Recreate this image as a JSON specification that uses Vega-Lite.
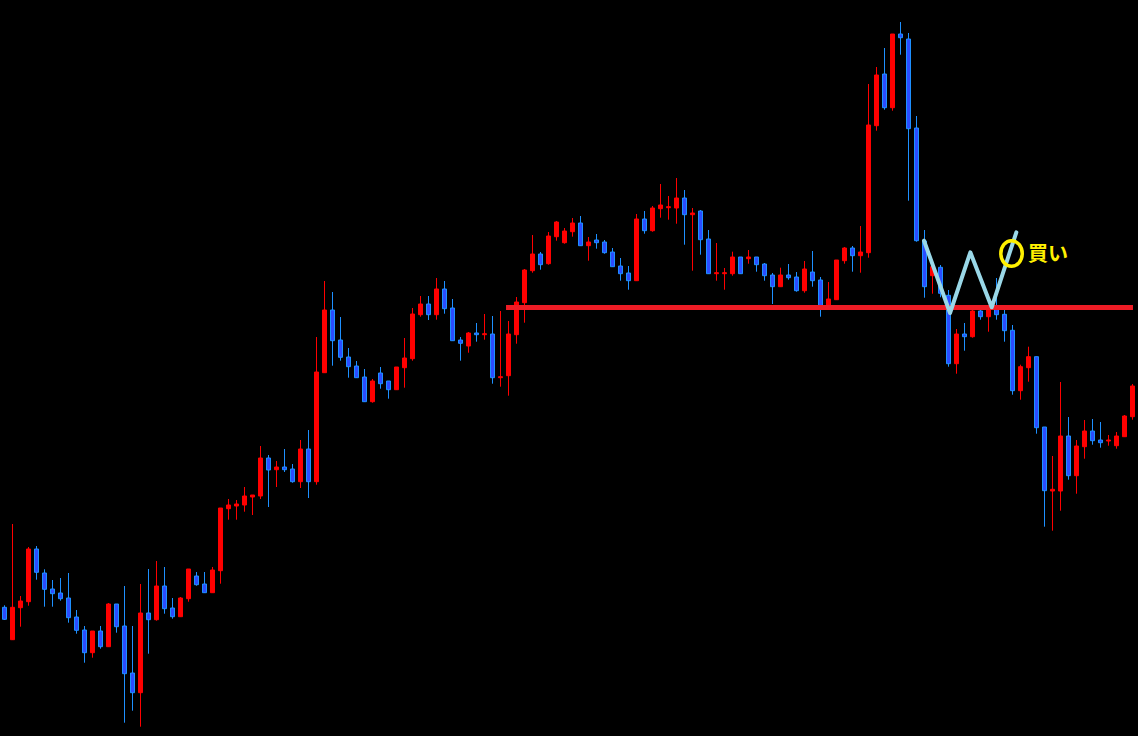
{
  "$schema": "https://vega.github.io/schema/vega-lite/v6.json",
  "width": 1138,
  "height": 736,
  "autosize": {"type": "fit", "contains": "padding"},
  "padding": 0,
  "background": "#000000",
  "config": {"view": {"stroke": null}, "scale": {"continuousPadding": 0}},
  "datasets": {
    "candles": [
      {"k":0,"o":128.7,"h":130.7,"l":116,"c":116.7},
      {"k":1,"o":96.3,"h":212,"l":96,"c":128.7},
      {"k":2,"o":128.3,"h":140,"l":109.3,"c":135},
      {"k":3,"o":134.3,"h":189,"l":130.3,"c":187},
      {"k":4,"o":187,"h":190,"l":156.3,"c":163.7},
      {"k":5,"o":163,"h":166.7,"l":129.3,"c":146.7},
      {"k":6,"o":147,"h":156,"l":129.3,"c":142.3},
      {"k":7,"o":143,"h":158,"l":135.3,"c":137.3},
      {"k":8,"o":138,"h":163,"l":113.3,"c":118.3},
      {"k":9,"o":119,"h":126,"l":102.3,"c":105.7},
      {"k":10,"o":106,"h":110,"l":73.3,"c":83.3},
      {"k":11,"o":83.3,"h":105,"l":78.3,"c":105},
      {"k":12,"o":105,"h":110,"l":87.3,"c":89.3},
      {"k":13,"o":89.3,"h":133,"l":89.3,"c":132},
      {"k":14,"o":132,"h":132,"l":103.3,"c":109.3},
      {"k":15,"o":110,"h":150,"l":13.3,"c":62.3},
      {"k":16,"o":63,"h":110,"l":25.3,"c":43.3},
      {"k":17,"o":43.3,"h":152,"l":9.3,"c":123},
      {"k":18,"o":123,"h":167,"l":82.3,"c":116.3},
      {"k":19,"o":116.3,"h":175,"l":115.3,"c":150},
      {"k":20,"o":150,"h":169,"l":122.3,"c":127.3},
      {"k":21,"o":128,"h":138,"l":117.3,"c":119.3},
      {"k":22,"o":119.3,"h":139,"l":119.3,"c":138},
      {"k":23,"o":137.3,"h":167,"l":134.3,"c":167},
      {"k":24,"o":160,"h":164,"l":150.3,"c":151.3},
      {"k":25,"o":152,"h":164,"l":143.3,"c":143.3},
      {"k":26,"o":143.3,"h":169,"l":143.3,"c":166},
      {"k":27,"o":165.3,"h":228,"l":152.3,"c":228},
      {"k":28,"o":227.3,"h":237,"l":216.3,"c":231},
      {"k":29,"o":230,"h":236,"l":216.3,"c":232},
      {"k":30,"o":231,"h":249,"l":224.3,"c":240},
      {"k":31,"o":239,"h":241,"l":221,"c":241},
      {"k":32,"o":240,"h":290,"l":237,"c":278},
      {"k":33,"o":278,"h":281,"l":229,"c":266},
      {"k":34,"o":266.3,"h":275,"l":249,"c":269},
      {"k":35,"o":269,"h":287,"l":264,"c":266.3},
      {"k":36,"o":267,"h":272,"l":253.3,"c":254.3},
      {"k":37,"o":254.3,"h":296,"l":248,"c":287},
      {"k":38,"o":287,"h":306,"l":238,"c":254.3},
      {"k":39,"o":254.3,"h":399,"l":251.3,"c":364},
      {"k":40,"o":363.3,"h":455,"l":363.3,"c":426},
      {"k":41,"o":426,"h":444,"l":370.3,"c":395.3},
      {"k":42,"o":396,"h":419,"l":375.3,"c":378.7},
      {"k":43,"o":379,"h":388,"l":358.3,"c":369.3},
      {"k":44,"o":370,"h":375,"l":358.3,"c":358.3},
      {"k":45,"o":359,"h":367,"l":334.3,"c":334.3},
      {"k":46,"o":334.3,"h":357,"l":333.3,"c":355},
      {"k":47,"o":363,"h":369,"l":347.3,"c":352.3},
      {"k":48,"o":355,"h":355,"l":337.3,"c":346.3},
      {"k":49,"o":346.3,"h":369,"l":346.3,"c":369},
      {"k":50,"o":368.3,"h":398,"l":348.3,"c":378},
      {"k":51,"o":377.3,"h":428,"l":375.3,"c":422},
      {"k":52,"o":421.3,"h":440,"l":419.3,"c":432},
      {"k":53,"o":432,"h":440,"l":416,"c":421.3},
      {"k":54,"o":421.3,"h":458,"l":416.3,"c":447},
      {"k":55,"o":447,"h":455,"l":422.3,"c":427.3},
      {"k":56,"o":428,"h":437,"l":395.3,"c":395.3},
      {"k":57,"o":396,"h":399,"l":375.3,"c":392.7},
      {"k":58,"o":390,"h":404,"l":383.3,"c":403},
      {"k":59,"o":403,"h":413,"l":394.3,"c":401.3},
      {"k":60,"o":401.3,"h":422,"l":396.3,"c":402.3},
      {"k":61,"o":402,"h":420,"l":352.3,"c":358.3},
      {"k":62,"o":358.3,"h":425,"l":349.3,"c":359.3},
      {"k":63,"o":360.3,"h":415,"l":340.3,"c":402},
      {"k":64,"o":401.3,"h":439,"l":392.3,"c":434},
      {"k":65,"o":433.3,"h":467,"l":413.3,"c":466},
      {"k":66,"o":465.3,"h":501,"l":463.3,"c":482},
      {"k":67,"o":482,"h":484,"l":466.3,"c":471.3},
      {"k":68,"o":472.3,"h":504,"l":471.3,"c":500},
      {"k":69,"o":499.3,"h":515,"l":495.3,"c":514},
      {"k":70,"o":493.3,"h":508,"l":492.3,"c":505},
      {"k":71,"o":504.3,"h":518,"l":499.3,"c":513},
      {"k":72,"o":513,"h":520,"l":490.3,"c":490.3},
      {"k":73,"o":490.3,"h":499,"l":475.3,"c":494},
      {"k":74,"o":496,"h":502,"l":487.3,"c":493.3},
      {"k":75,"o":494,"h":496,"l":482.3,"c":483.3},
      {"k":76,"o":484,"h":488,"l":469.3,"c":469.3},
      {"k":77,"o":470,"h":478,"l":455.3,"c":462.3},
      {"k":78,"o":463,"h":470,"l":446.3,"c":455.3},
      {"k":79,"o":455.3,"h":522,"l":455.3,"c":517},
      {"k":80,"o":517,"h":525,"l":502.3,"c":505.3},
      {"k":81,"o":505.3,"h":530,"l":504.3,"c":528},
      {"k":82,"o":527.3,"h":552,"l":518.3,"c":531},
      {"k":83,"o":528.3,"h":540,"l":516.3,"c":529.3},
      {"k":84,"o":528,"h":558,"l":512.3,"c":538},
      {"k":85,"o":538,"h":546,"l":491.3,"c":521.3},
      {"k":86,"o":521.3,"h":528,"l":465.3,"c":523},
      {"k":87,"o":525,"h":526,"l":481.3,"c":496.3},
      {"k":88,"o":497,"h":506,"l":462.3,"c":462.3},
      {"k":89,"o":462.3,"h":493,"l":455.3,"c":463.3},
      {"k":90,"o":462.3,"h":468,"l":446.3,"c":463.3},
      {"k":91,"o":462.3,"h":484.3,"l":460.3,"c":479},
      {"k":92,"o":479,"h":479,"l":462.3,"c":462.3},
      {"k":93,"o":477.3,"h":486,"l":472.3,"c":479},
      {"k":94,"o":479,"h":479,"l":464.3,"c":471.3},
      {"k":95,"o":472,"h":473,"l":455.3,"c":460.3},
      {"k":96,"o":461,"h":463,"l":432,"c":449.3},
      {"k":97,"o":449.3,"h":468.3,"l":449.3,"c":461},
      {"k":98,"o":461,"h":472,"l":456.3,"c":458.3},
      {"k":99,"o":459,"h":464,"l":444.3,"c":445.3},
      {"k":100,"o":445.3,"h":475,"l":443.3,"c":467},
      {"k":101,"o":464,"h":485,"l":449.3,"c":455.3},
      {"k":102,"o":456,"h":459,"l":419.3,"c":430},
      {"k":103,"o":429,"h":454,"l":428,"c":437},
      {"k":104,"o":436.3,"h":476,"l":436.3,"c":476},
      {"k":105,"o":475.3,"h":489,"l":472.3,"c":488},
      {"k":106,"o":488,"h":490,"l":464.3,"c":480.3},
      {"k":107,"o":480.3,"h":510,"l":463.3,"c":484},
      {"k":108,"o":483.3,"h":652,"l":478.3,"c":611},
      {"k":109,"o":610.3,"h":669,"l":605.3,"c":661},
      {"k":110,"o":662,"h":688,"l":626.3,"c":628.3},
      {"k":111,"o":628.3,"h":702,"l":625.3,"c":702},
      {"k":112,"o":702,"h":714,"l":681.3,"c":698.3},
      {"k":113,"o":697,"h":703,"l":535.3,"c":607.3},
      {"k":114,"o":608,"h":620,"l":494.3,"c":495.3},
      {"k":115,"o":495,"h":506,"l":438.3,"c":449.3},
      {"k":116,"o":460.3,"h":473,"l":442.3,"c":469.3},
      {"k":117,"o":468.7,"h":471,"l":438.7,"c":442.7},
      {"k":118,"o":440.7,"h":446,"l":369.3,"c":372.3},
      {"k":119,"o":372.3,"h":407,"l":362.3,"c":402},
      {"k":120,"o":402,"h":413,"l":385.3,"c":399.3},
      {"k":121,"o":399.3,"h":426,"l":398.3,"c":425},
      {"k":122,"o":425,"h":427.3,"l":416.3,"c":419.3},
      {"k":123,"o":419.3,"h":431,"l":404.3,"c":429},
      {"k":124,"o":427,"h":458,"l":416.3,"c":421.3},
      {"k":125,"o":421.7,"h":427.3,"l":394.3,"c":405.3},
      {"k":126,"o":405.7,"h":411,"l":341.3,"c":345.3},
      {"k":127,"o":345.3,"h":371.3,"l":336.3,"c":369.3},
      {"k":128,"o":368.3,"h":389.3,"l":354.3,"c":379.3},
      {"k":129,"o":379.3,"h":379.3,"l":302.3,"c":308.3},
      {"k":130,"o":309,"h":309,"l":209.3,"c":245.3},
      {"k":131,"o":245,"h":280,"l":205.3,"c":246.7},
      {"k":132,"o":245,"h":354,"l":225.3,"c":300},
      {"k":133,"o":300,"h":319,"l":256.3,"c":260.3},
      {"k":134,"o":260.3,"h":296,"l":242.3,"c":290},
      {"k":135,"o":289.3,"h":316,"l":277.3,"c":305},
      {"k":136,"o":305,"h":317,"l":291.3,"c":295.3},
      {"k":137,"o":296,"h":314,"l":288.3,"c":293.3},
      {"k":138,"o":295,"h":301,"l":290.3,"c":296},
      {"k":139,"o":290.3,"h":304,"l":287.3,"c":300},
      {"k":140,"o":299.3,"h":321,"l":299.3,"c":320},
      {"k":141,"o":319.3,"h":352,"l":316.3,"c":350}
    ],
    "level": [{"k": 62.69, "k2": 141.06, "p": 428.5}],
    "wave": [
      {"k": 114.94, "p": 495.3},
      {"k": 118.19, "p": 423},
      {"k": 120.73, "p": 483.7},
      {"k": 123.4, "p": 428.7},
      {"k": 126.48, "p": 503.7}
    ],
    "signal": [{"k": 125.88, "p": 482.5}],
    "label": [{"k": 127.94, "p": 481, "text": "買い"}]
  },
  "layer": [
    {
      "data": {"name": "candles"},
      "mark": {"type": "rule", "strokeWidth": 1},
      "encoding": {
        "x": {"field": "k", "type": "quantitative", "scale": {"domain": [-0.5625, 141.6875], "nice": false, "zero": false, "padding": 0}, "axis": null},
        "y": {"field": "h", "type": "quantitative", "scale": {"domain": [0, 736], "nice": false, "zero": false, "padding": 0}, "axis": null},
        "y2": {"field": "l"},
        "color": {"condition": {"test": "datum.c >= datum.o", "value": "#FF0000"}, "value": "#1E90FF"}
      }
    },
    {
      "data": {"name": "candles"},
      "mark": {"type": "bar", "size": 4, "strokeWidth": 1},
      "encoding": {
        "x": {"field": "k", "type": "quantitative", "scale": {"domain": [-0.5625, 141.6875], "nice": false, "zero": false, "padding": 0}, "axis": null},
        "y": {"field": "o", "type": "quantitative", "scale": {"domain": [0, 736], "nice": false, "zero": false, "padding": 0}, "axis": null},
        "y2": {"field": "c"},
        "fill": {"condition": {"test": "datum.c >= datum.o", "value": "#FF0000"}, "value": "#2B4CFF"},
        "stroke": {"condition": {"test": "datum.c >= datum.o", "value": "#FF0000"}, "value": "#1E90FF"}
      }
    },
    {
      "data": {"name": "level"},
      "mark": {"type": "rule", "strokeWidth": 5, "color": "#EE1C25"},
      "encoding": {
        "x": {"field": "k", "type": "quantitative", "scale": {"domain": [-0.5625, 141.6875], "nice": false, "zero": false, "padding": 0}, "axis": null},
        "x2": {"field": "k2"},
        "y": {"field": "p", "type": "quantitative", "scale": {"domain": [0, 736], "nice": false, "zero": false, "padding": 0}, "axis": null}
      }
    },
    {
      "data": {"name": "wave"},
      "mark": {"type": "line", "strokeWidth": 4, "color": "#9AD8E8", "strokeCap": "round", "strokeJoin": "round"},
      "encoding": {
        "x": {"field": "k", "type": "quantitative", "scale": {"domain": [-0.5625, 141.6875], "nice": false, "zero": false, "padding": 0}, "axis": null},
        "y": {"field": "p", "type": "quantitative", "scale": {"domain": [0, 736], "nice": false, "zero": false, "padding": 0}, "axis": null}
      }
    },
    {
      "data": {"name": "signal"},
      "mark": {"type": "point", "shape": "M -0.84 0 A 0.84 1 0 1 1 0.84 0 A 0.84 1 0 1 1 -0.84 0 Z", "size": 650, "strokeWidth": 3.5, "color": "#FFF000", "filled": false, "opacity": 1},
      "encoding": {
        "x": {"field": "k", "type": "quantitative", "scale": {"domain": [-0.5625, 141.6875], "nice": false, "zero": false, "padding": 0}, "axis": null},
        "y": {"field": "p", "type": "quantitative", "scale": {"domain": [0, 736], "nice": false, "zero": false, "padding": 0}, "axis": null}
      }
    },
    {
      "data": {"name": "label"},
      "mark": {"type": "text", "align": "left", "baseline": "middle", "font": "Noto Sans CJK JP", "fontWeight": "bold", "fontSize": 20, "color": "#FFF000"},
      "encoding": {
        "x": {"field": "k", "type": "quantitative", "scale": {"domain": [-0.5625, 141.6875], "nice": false, "zero": false, "padding": 0}, "axis": null},
        "y": {"field": "p", "type": "quantitative", "scale": {"domain": [0, 736], "nice": false, "zero": false, "padding": 0}, "axis": null},
        "text": {"field": "text"}
      }
    }
  ]
}
